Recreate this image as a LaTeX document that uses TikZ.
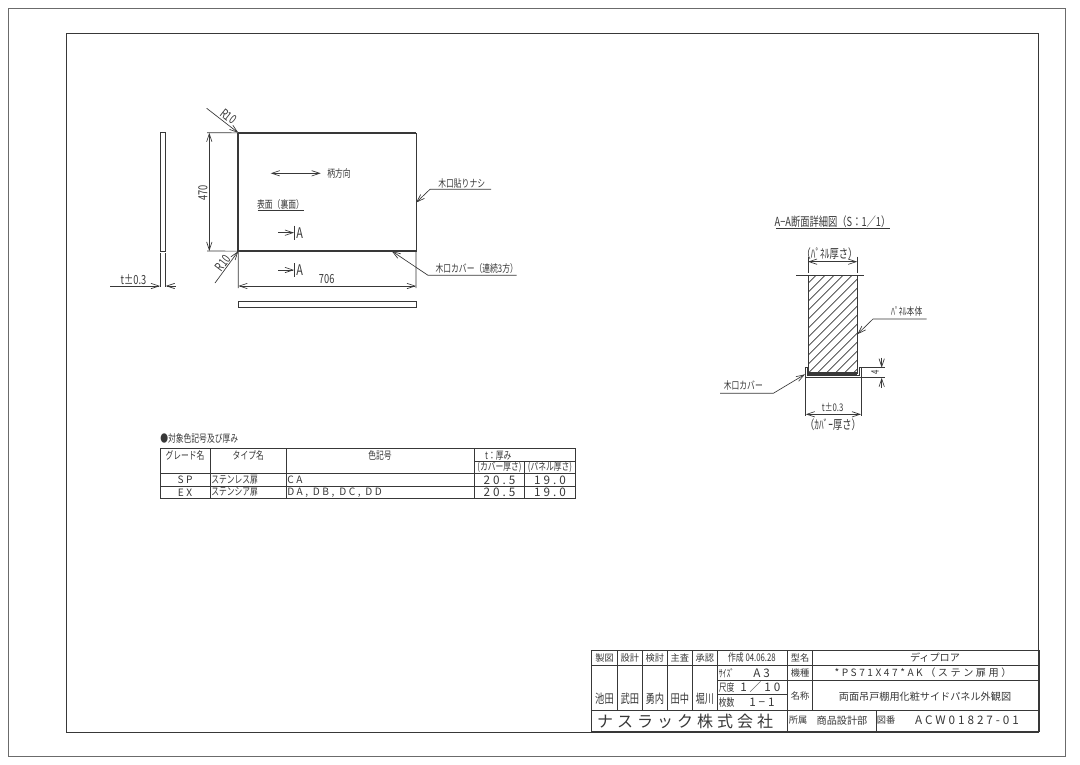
\documentclass[tikz,border=0pt]{standalone}
\usepackage{fontspec}
\usepackage{xcolor}
\usetikzlibrary{arrows.meta, positioning}
\newfontfamily\cjk[FakeStretch=0.74]{Noto Sans CJK JP}
\newfontfamily\cjkfull{Noto Sans CJK JP}
\newfontfamily\cjkwide[LetterSpace=25]{Noto Sans CJK JP}
\definecolor{ink}{gray}{0.22}
\definecolor{framegray}{gray}{0.42}

\begin{document}
\begin{tikzpicture}[x=0.75pt, y=-0.75pt, >={Straight Barb[length=6pt,width=4pt]}]
\tikzset{
  lbl/.style={font=\cjk\fontsize{7.9}{9}\selectfont, inner sep=0pt, text=ink},
  lblbig/.style={font=\cjk\fontsize{9.4}{10}\selectfont, inner sep=0pt, text=ink},
  lblfull/.style={font=\cjkfull\fontsize{7.6}{9}\selectfont, inner sep=0pt, text=ink},
  lblcell/.style={font=\cjkfull\fontsize{6.9}{8}\selectfont, inner sep=0pt, text=ink},
  lblwide/.style={font=\cjkwide\fontsize{7.6}{9}\selectfont, inner sep=0pt, text=ink},
  lblwidebig/.style={font=\cjkwide\fontsize{8.8}{10}\selectfont, inner sep=0pt, text=ink},
  part/.style={rectangle, draw=ink, inner sep=0pt, outer sep=0pt, line width=0.55pt},
  thin line/.style={draw=ink, line width=0.5pt},
  dim/.style={draw=ink, line width=0.5pt, <->},
  leader/.style={draw=ink, line width=0.5pt, ->},
  rule/.style={draw=ink, line width=0.6pt}
}
\useasboundingbox (0,0) rectangle (1080,764);
\fill[white] (0,0) rectangle (1080,764);

% sheet frames
\draw[framegray, line width=0.7pt] (8,8) rectangle (1065,756);
\draw[ink, line width=0.7pt] (66,33) rectangle (1038,732);

% panel front view
\node (panel) [part, minimum width=133.3pt, minimum height=88.7pt] at (327.2,192) {};
\draw[ink, line width=1.3pt] (panel.north west) -- (panel.south west) -- (panel.south east);
\draw[ink, line width=0.9pt] (panel.north west) -- (panel.north east);
\node (sideview) [part, minimum width=4.3pt, minimum height=89.2pt] at (162.9,192.2) {};
\node (edgeview) [part, minimum width=133.3pt, minimum height=4.5pt] at (327.2,304.3) {};

% free ends
\coordinate (wtop) at (160,253);
\coordinate (wbot) at (160,287);
\coordinate (etop) at (165.7,253);
\coordinate (ebot) at (165.7,287);
\coordinate (wleft) at (110,286);
\coordinate (wright) at (175.7,286);
\coordinate (warrowa) at (160,286);
\coordinate (warrowb) at (165.7,286);
\draw[thin line] (wtop) -- (wbot);
\draw[thin line] (etop) -- (ebot);
\draw[leader] (wleft) -- (warrowa);
\draw[leader] (wright) -- (warrowb);
\node (tollabel) [lblbig] at (133.5,280) {t±0.3};

\coordinate (hdimtop) at (209.3,132.7);
\coordinate (hdimbot) at (209.3,251);
\coordinate (hexttop) at (207,132.7);
\coordinate (hextbot) at (207,251);
\draw[thin line] (hexttop) -- (panel.north west);
\draw[thin line] (hextbot) -- (panel.south west);
\draw[dim] (hdimtop) -- (hdimbot);
\node (hlabel) [lblbig, rotate=90] at (203,193) {470};

\coordinate (rtop) at (206.7,108.3);
\draw[leader] (rtop) -- (panel.north west);
\node (rtoplabel) [lblbig, rotate=-38] at (228.5,116.5) {R10};
\coordinate (rbot) at (215,283);
\draw[leader] (rbot) -- (panel.south west);
\node (rbotlabel) [lblbig, rotate=53] at (223,263.5) {R10};

\coordinate (grainl) at (270.7,173.3);
\coordinate (grainr) at (320.7,173.3);
\draw[dim] (grainl) -- (grainr);
\node (grain) [lbl] at (339,173.5) {柄方向};

\node (face) [lbl] at (280.5,204.5) {表面（裏面）};
\draw[thin line] (257.7,210) -- (304,210);

% section marks
\foreach \secy/\secname in {232.7/sa, 270/sb} {
  \coordinate (\secname) at (278,\secy);
  \coordinate (\secname end) at (294,\secy);
  \draw[leader] (\secname) -- (\secname end);
  \draw[thin line] (294.3,\secy-7) -- (294.3,\secy+7);
  \node (\secname label) [font=\cjk\fontsize{11}{12}\selectfont, inner sep=0pt, text=ink] at (299.7,\secy) {A};
}

\coordinate (lnone) at (491,189.3);
\coordinate (lnonek) at (430,189.3);
\coordinate (lnonetip) at (416,202.7);
\draw[leader] (lnone) -- (lnonek) -- (lnonetip);
\node (nonelabel) [lbl] at (461.7,183) {木口貼りナシ};

\coordinate (lcov) at (516.7,275.3);
\coordinate (lcovk) at (428,275.3);
\coordinate (lcovtip) at (391.7,251);
\draw[leader] (lcov) -- (lcovk) -- (lcovtip);
\node (covlabel) [lbl] at (476.7,268) {木口カバー（連続3方）};

\coordinate (wdiml) at (238.3,286);
\coordinate (wdimr) at (416,286);
\coordinate (wextl) at (238.3,288);
\coordinate (wextr) at (416,288);
\draw[thin line] (panel.south west) -- (wextl);
\draw[thin line] (panel.south east) -- (wextr);
\draw[dim] (wdiml) -- (wdimr);
\node (wlabel) [lblbig] at (326.7,279.5) {706};

% section A-A
\node (sectitle) [lblbig] at (832.5,222) {A−A断面詳細図（S：1／1）};
\draw[thin line] (776,228.3) -- (890,228.3);

\node (body) [part, minimum width=37pt, minimum height=73.7pt] at (832.65,324.15) {};
\begin{scope}
  \clip (808,275) rectangle (857.3,373.3);
  \foreach \hx in {700,709,...,860} {
    \draw[ink, line width=0.5pt] (\hx,373.3) -- (\hx+98.3,275);
  }
\end{scope}
\draw[rule] (796,275) -- (864,275);

\coordinate (bodydl) at (808,261.7);
\coordinate (bodydr) at (857.3,261.7);
\draw[thin line] (808,256.7) -- (808,273);
\draw[thin line] (857.3,256.7) -- (857.3,273);
\draw[dim] (bodydl) -- (bodydr);
\node (bodydim) [lblbig] at (829.5,253.5) {（ﾊﾟﾈﾙ厚さ）};

% cover channel
\draw[ink, line width=0.6pt] (805.7,367.7) -- (805.7,377.7) -- (861,377.7) -- (861,367.7) -- (859.3,367.7) -- (859.3,375.5) -- (807.4,375.5) -- (807.4,367.7) -- cycle;
\fill[ink] (808,372.3) rectangle (857.3,375.5);

\coordinate (fourtop) at (881.7,357.7);
\coordinate (fourbot) at (881.7,388);
\coordinate (foura) at (881.7,367.7);
\coordinate (fourb) at (881.7,377.7);
\draw[thin line] (861.5,367.7) -- (884.5,367.7);
\draw[thin line] (861.5,377.7) -- (884.5,377.7);
\draw[leader] (fourtop) -- (foura);
\draw[leader] (fourbot) -- (fourb);
\node (fourlabel) [lbl, rotate=90] at (875,372.7) {4};

\coordinate (lbody) at (926.7,319);
\coordinate (lbodyk) at (873,319);
\coordinate (lbodytip) at (857.3,334.3);
\draw[leader] (lbody) -- (lbodyk) -- (lbodytip);
\node (bodylabel) [lbl] at (906.7,311.7) {ﾊﾟﾈﾙ本体};

\coordinate (lcap) at (720,393.3);
\coordinate (lcapk) at (773.3,393.3);
\coordinate (lcaptip) at (805,374.3);
\draw[leader] (lcap) -- (lcapk) -- (lcaptip);
\node (caplabel) [lbl] at (743.3,385.7) {木口カバー};

\coordinate (tl) at (805.7,414.3);
\coordinate (tr) at (861,414.3);
\draw[thin line] (805.7,378) -- (805.7,416);
\draw[thin line] (861,378) -- (861,416);
\draw[dim] (tl) -- (tr);
\node (tlabel) [lbl] at (832.7,407.5) {t±0.3};
\node (tunder) [lblbig] at (833,424.3) {（ｶﾊﾞｰ厚さ）};

% colour table
\node (tabletitle) [lbl, anchor=west] at (160,438.3) {●対象色記号及び厚み};
\draw[rule] (160,448.3) rectangle (575.7,498.3);
\foreach \cx in {210.7,286,474.3} { \draw[thin line] (\cx,448.3) -- (\cx,498.3); }
\draw[thin line] (524.7,461) -- (524.7,498.3);
\draw[thin line] (474.3,461) -- (575.7,461);
\foreach \ry in {473.3,486} { \draw[thin line] (160,\ry) -- (575.7,\ry); }
\node (thgrade) [lbl] at (185,455.7) {グレード名};
\node (thtype) [lbl] at (248.3,455.7) {タイプ名};
\node (thcode) [lbl] at (380,455.7) {色記号};
\node (ththick) [lbl] at (498.3,455.3) {t：厚み};
\node (thcov) [lbl] at (499.5,467.3) {(カバー厚さ)};
\node (thpan) [lbl] at (550,467.3) {(パネル厚さ)};
\foreach \ry/\grade/\typ/\code in {480/SP/ステンレス扉/CA, 492.3/EX/ステンシア扉/{DA, DB, DC, DD}} {
  \node (g\grade) [lblwide] at (185,\ry) {\grade};
  \node (t\grade) [lbl, anchor=west] at (211,\ry) {\typ};
  \node (c\grade) [lblwide, anchor=west] at (287,\ry) {\code};
  \node (a\grade) [lblwidebig] at (499.5,\ry) {20.5};
  \node (b\grade) [lblwidebig] at (550,\ry) {19.0};
}

% title block
\draw[rule] (591.7,650) rectangle (1039,731);
\foreach \cx in {617.3,642.3,667.3,692.3,717.3} { \draw[thin line] (\cx,650) -- (\cx,710); }
\draw[thin line] (787.7,650) -- (787.7,731);
\draw[thin line] (812.3,650) -- (812.3,710);
\draw[thin line] (876,710) -- (876,731);
\draw[thin line] (591.7,665) -- (1039,665);
\draw[thin line] (717.3,680.7) -- (1039,680.7);
\draw[thin line] (717.3,694.3) -- (787.7,694.3);
\draw[thin line] (591.7,710) -- (1039,710);
\foreach \cx/\head/\who in {604.5/製図/池田, 629.8/設計/武田, 654.8/検討/勇内, 679.8/主査/田中, 704.8/承認/堀川} {
  \node (h\head) [lblcell] at (\cx,657.7) {\head};
  \node (s\who) [lblbig] at (\cx,698.5) {\who};
}
\node (made) [lbl] at (752,657.7) {作成 04.06.28};
\node (sizek) [lbl, anchor=west] at (718.5,673) {ｻｲｽﾞ};
\node (sizev) [lblwidebig, anchor=west] at (753,673) {A3};
\node (scalek) [lbl, anchor=west] at (718.5,687.5) {尺度};
\node (scalev) [lblwidebig, anchor=west] at (740,687.5) {1／10};
\node (countk) [lbl, anchor=west] at (718.5,702) {枚数};
\node (countv) [lblwidebig, anchor=west] at (749,702) {1−1};
\node (company) [font=\cjkwide\fontsize{12}{14}\selectfont, inner sep=0pt, text=ink] at (685,721) {ナスラック株式会社};
\node (kmodel) [lblcell] at (800,657.7) {型名};
\node (kkind) [lblcell] at (800,673) {機種};
\node (kname) [lblcell] at (800,696) {名称};
\node (kdept) [lblcell] at (798,720.5) {所属};
\node (vmodel) [lblfull] at (935,657.7) {ディプロア};
\node (vkind) [lblwide] at (923,673) {*PS71X47*AK（ステン扉用）};
\node (vname) [lblfull] at (925,696.5) {両面吊戸棚用化粧サイドパネル外観図};
\node (vdept) [lblfull] at (842,720.5) {商品設計部};
\node (kno) [lblcell] at (886,720.5) {図番};
\node (vno) [lblwidebig] at (967,720.5) {ACW01827-01};

\end{tikzpicture}
\end{document}
